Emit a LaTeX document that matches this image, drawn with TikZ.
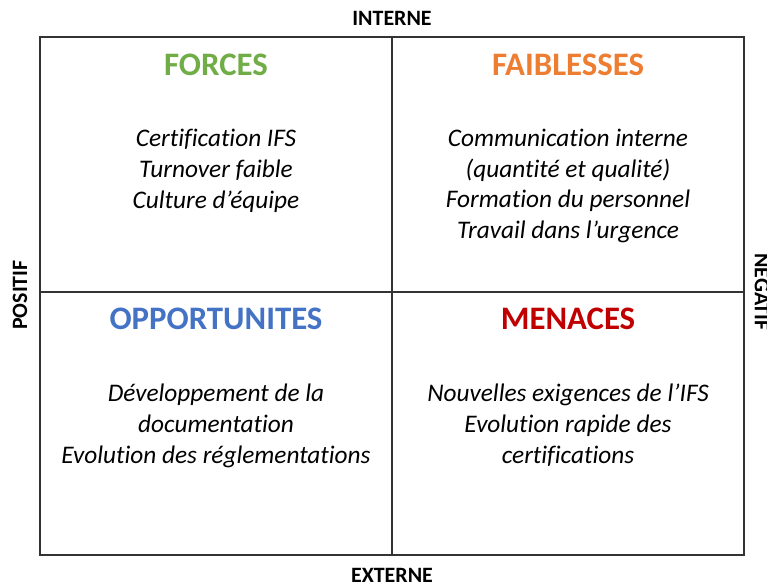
\documentclass[tikz,border=0pt]{standalone}
\usepackage{fontspec}
\setmainfont{Carlito}[RawFeature={-liga;-dlig}]
\usepackage{tikz}
\usetikzlibrary{positioning}

\definecolor{vert}{RGB}{112,173,71}
\definecolor{orange}{RGB}{237,125,49}
\definecolor{bleu}{RGB}{68,114,196}
\definecolor{rouge}{RGB}{192,0,0}

\begin{document}
\begin{tikzpicture}[x=0.03cm, y=-0.03cm,
  titre/.style={font=\fontsize{28}{32}\selectfont\bfseries},
  liste/.style={font=\fontsize{21.6}{26.2}\selectfont\itshape, align=center, anchor=base},
  axe/.style={font=\fontsize{18.7}{22}\selectfont\bfseries},
  trait/.style={line width=1.5pt, black!80}]
\useasboundingbox (0,0) rectangle (767,585);

% grille
\coordinate (hg) at (40,37);
\coordinate (bd) at (744,555);
\coordinate (haut) at (392,37);
\coordinate (bas) at (392,555);
\coordinate (gauche) at (40,292);
\coordinate (droite) at (744,292);
\draw[trait] (hg) rectangle (bd);
\draw[trait] (haut) -- (bas);
\draw[trait] (gauche) -- (droite);

% axes
\node[axe] (interne) at (392,18) {INTERNE};
\node[axe] (externe) at (392,575) {EXTERNE};
\node[axe, rotate=90] (positif) at (20,295) {POSITIF};
\node[axe, rotate=-90] (negatif) at (762,292) {NEGATIF};

% forces
\node[titre, text=vert] (forces) at (216,65) {FORCES};
\node[liste] (lforces) at (216,208) {Certification IFS\\Turnover faible\\Culture d’équipe};

% faiblesses
\node[titre, text=orange] (faiblesses) at (568,65) {FAIBLESSES};
\node[liste] (lfaiblesses) at (568,238.5) {Communication interne\\(quantité et qualité)\\Formation du personnel\\Travail dans l’urgence};

% opportunites
\node[titre, text=bleu] (opportunites) at (216,319) {OPPORTUNITES};
\node[liste] (lopportunites) at (216,463) {Développement de la\\documentation\\Evolution des réglementations};

% menaces
\node[titre, text=rouge] (menaces) at (568,319) {MENACES};
\node[liste] (lmenaces) at (568,463) {Nouvelles exigences de l’IFS\\Evolution rapide des\\certifications};

\end{tikzpicture}
\end{document}
